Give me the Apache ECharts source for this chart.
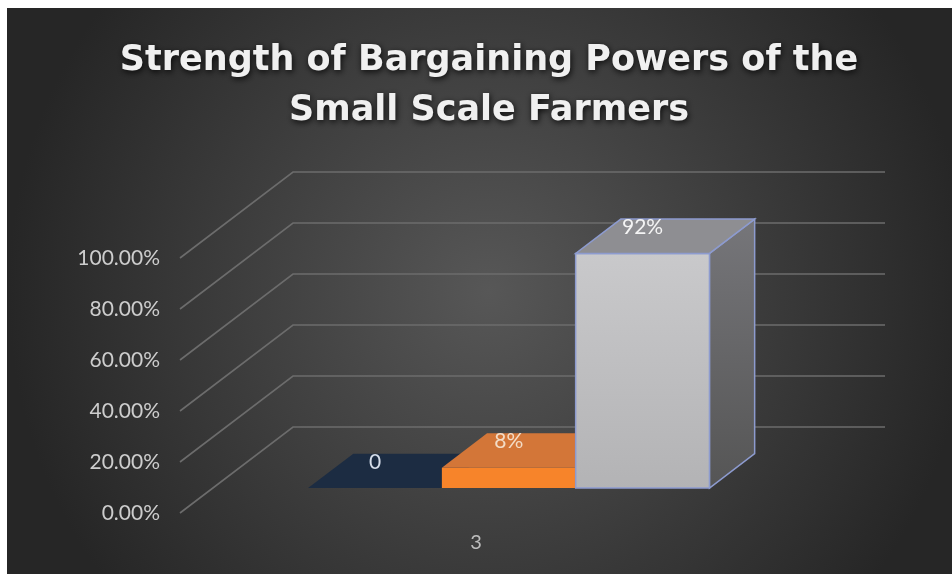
<!DOCTYPE html>
<html><head><meta charset="utf-8">
<script src="https://cdn.jsdelivr.net/npm/echarts@6/dist/echarts.min.js"></script>
<style>html,body{margin:0;padding:0;background:#fff}#c{width:952px;height:574px}</style>
</head><body><div id="c"></div>
<script>
// ---- data ----
const categories = ['3'];
const barValues = [0, 0.08, 0.92];
const barLabels = ['0', '8%', '92%'];
const yTickValues = [0, 0.2, 0.4, 0.6, 0.8, 1.0];

// ---- 3D projection settings ----
const DEPTH = [113, -86];
const BAR_F0 = 0.29, BAR_F1 = 0.69;
const BAR_FRAC = 0.226;

function lin(c1, c2) {
  return {type:'linear', x:0, y:0, x2:0, y2:1, colorStops:[{offset:0,color:c1},{offset:1,color:c2}]};
}
const barStyles = [
  {front:'#1d2e45', top:'#1c2c42', side:'#15212f', stroke:null, label:'#d6deea'},
  {front:'#f7842a', top:'#d37638', side:'#b8602a', stroke:null, label:'#f3dcc6'},
  {front:lin('#c9c9cb','#b3b3b5'), top:'#8e8e92', side:lin('#76767a','#555555'), stroke:'#8d9bcf', label:'#f4f4f4'}
];

const chart = echarts.init(document.getElementById('c'));

function renderWalls(params, api) {
  const cs = params.coordSys;
  const children = [];
  yTickValues.forEach(v => {
    const y = api.coord([0, v])[1];
    const x = cs.x;
    children.push({type:'polyline', shape:{points:[[x, y],[x+DEPTH[0], y+DEPTH[1]],[x+cs.width+DEPTH[0], y+DEPTH[1]]]},
      style:{stroke:'#6c6c6c', lineWidth:1.6, fill:null}});
  });
  return {type:'group', children};
}

function renderBar(params, api) {
  const i = params.dataIndex;
  const cat = api.value(0), v = api.value(1);
  const base = api.coord([cat, 0]);
  const topP = api.coord([cat, v]);
  const cw = api.size([1, 0])[0];
  const bw = cw * BAR_FRAC;
  const n = barValues.length;
  const ox = DEPTH[0]*BAR_F0, oy = DEPTH[1]*BAR_F0;
  const dx = DEPTH[0]*(BAR_F1-BAR_F0), dy = DEPTH[1]*(BAR_F1-BAR_F0);
  const x0 = base[0] - n*bw/2 + i*bw + ox;
  const x1 = x0 + bw;
  const yb = base[1] + oy;
  const yt = topP[1] + oy;
  const st = barStyles[i];
  const sw = st.stroke ? 1.5 : 0;
  const children = [];
  if (yb - yt > 0.5) {
    children.push({type:'polygon', shape:{points:[[x1,yb],[x1+dx,yb+dy],[x1+dx,yt+dy],[x1,yt]]},
      style:{fill:st.side, stroke:st.stroke, lineWidth:sw}});
    children.push({type:'polygon', shape:{points:[[x0,yb],[x1,yb],[x1,yt],[x0,yt]]},
      style:{fill:st.front, stroke:st.stroke, lineWidth:sw}});
  }
  children.push({type:'polygon', shape:{points:[[x0,yt],[x1,yt],[x1+dx,yt+dy],[x0+dx,yt+dy]]},
    style:{fill:st.top, stroke:st.stroke, lineWidth:sw}});
  children.push({type:'text', x:(x0+x1)/2, y:yt-26,
    style:{text:barLabels[i], fill:st.label, fontSize:21, fontFamily:'Lato', align:'center', verticalAlign:'middle'}});
  return {type:'group', children};
}

chart.setOption({
  backgroundColor:'#ffffff',
  animation:false,
  graphic:[{type:'rect', z:-10, shape:{x:7, y:8, width:945, height:566},
    style:{fill:{type:'radial', x:0.51, y:0.5, r:0.85, colorStops:[{offset:0,color:'#575757'},{offset:1,color:'#262626'}]}}}],
  title:{
    text:'Strength of Bargaining Powers of the\nSmall Scale Farmers',
    left:484, top:31, textAlign:'center',
    textStyle:{color:'#f0f0f0', fontSize:35, fontWeight:'bold', fontFamily:'DejaVu Sans', lineHeight:50,
      textShadowColor:'rgba(0,0,0,0.85)', textShadowBlur:6, textShadowOffsetX:1, textShadowOffsetY:2}
  },
  grid:{left:180, right:180, top:258, bottom:61, containLabel:false},
  xAxis:{type:'category', data:categories,
    axisLine:{show:false}, axisTick:{show:false}, splitLine:{show:false},
    axisLabel:{color:'#bdbdbd', fontSize:20, fontFamily:'Lato', margin:20}},
  yAxis:{type:'value', min:0, max:1, interval:0.2,
    axisLine:{show:false}, axisTick:{show:false}, splitLine:{show:false},
    axisLabel:{color:'#cdcdcd', fontSize:21, fontFamily:'Lato', margin:20,
      formatter:v => (v*100).toFixed(2)+'%'}},
  series:[
    {type:'custom', renderItem:renderWalls, data:[[0,0]], z:1, silent:true},
    {type:'custom', renderItem:renderBar, data:barValues.map(v=>[0,v]), z:2}
  ]
});
</script></body></html>
